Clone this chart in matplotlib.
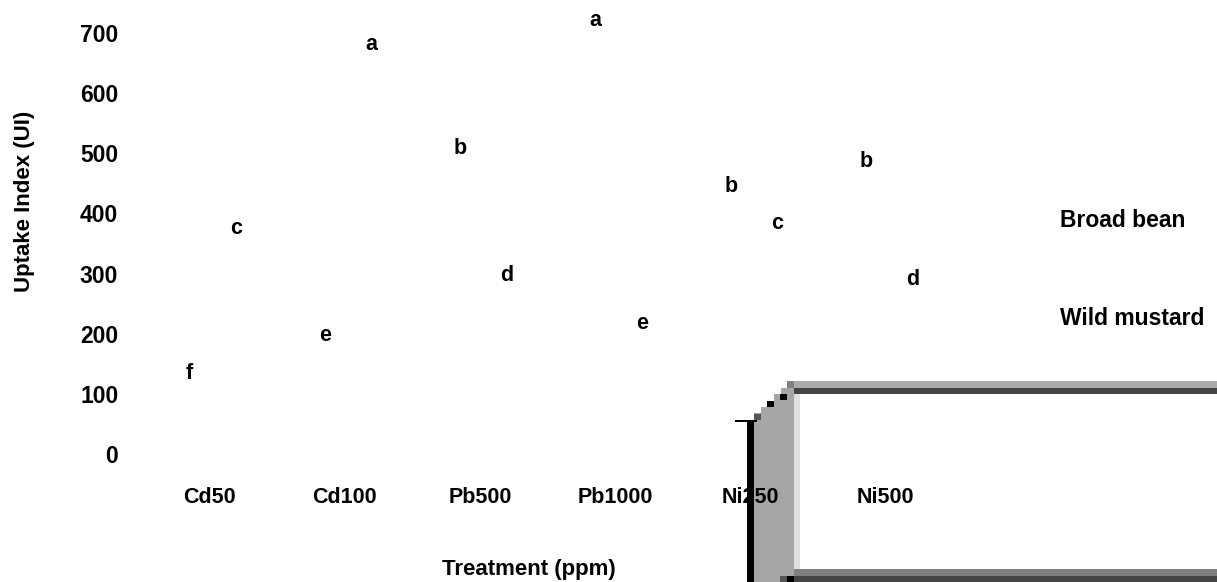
import numpy as np
import matplotlib
matplotlib.use("Agg")
import matplotlib.pyplot as plt
from matplotlib.patches import Rectangle, Polygon

plt.rcParams['font.family'] = ['Liberation Sans', 'DejaVu Sans']
plt.rcParams['font.weight'] = 'bold'

treatments = ["Cd50", "Cd100", "Pb500", "Pb1000", "Ni250", "Ni500"]
broad_bean = [116, 178, 490, 703, 426, 467]
wild_mustard = [357, 663, 278, 199, 364, 271]
letters_bb = ["f", "e", "b", "a", "b", "b"]
letters_wm = ["c", "a", "d", "e", "c", "d"]

W, H = 1217, 582
fig = plt.figure(figsize=(W / 100, H / 100), dpi=100)
ax = fig.add_axes([128 / W, 1 - 454 / H, 839 / W, 421 / H])
ax.patch.set_visible(False)

x = np.arange(len(treatments))
fs = 15.5
b1 = ax.bar(x - 0.145, broad_bean, 0.3, color="none", label="Broad bean")
b2 = ax.bar(x + 0.2, wild_mustard, 0.3, color="none", label="Wild mustard")

# significance letters over each bar
for bars, lets in ((b1, letters_bb), (b2, letters_wm)):
    for rect, let in zip(bars, lets):
        ax.annotate(let, (rect.get_x() + rect.get_width() / 2, rect.get_height()),
                    xytext=(0, 0.5), textcoords="offset points", ha="center", va="bottom",
                    fontsize=fs, fontweight="bold", annotation_clip=False)

ax.set_xlim(-0.6, 5.6)
ax.set_ylim(0, 700)
ax.set_yticks(range(0, 701, 100))
ax.set_xticks(x)
ax.set_xticklabels(treatments)
ax.tick_params(axis="x", length=0, pad=24, labelsize=fs)
ax.tick_params(axis="y", length=0, pad=7, labelsize=16.5)
for s in ax.spines.values():
    s.set_visible(False)

fig.text(25 / W, 1 - 201 / H, "Uptake Index (UI)", rotation=90, ha="center", va="center",
         fontsize=16, fontweight="bold")
fig.text(529 / W, 1 - 569 / H, "Treatment (ppm)", ha="center", va="center",
         fontsize=16, fontweight="bold")

fig.legend(handles=[b1, b2], loc="upper left", bbox_to_anchor=(1060 / W, 1 - 209 / H),
           frameon=False, handlelength=0, handletextpad=0, borderpad=0, borderaxespad=0,
           labelspacing=3.28, prop={"size": 16.5, "weight": "bold"})


# grey frame drawn in pixel units, origin at top left
def px_rect(x0, y0, x1, y1, color, z=5):
    fig.add_artist(Rectangle((x0 / W, 1 - y1 / H), (x1 - x0) / W, (y1 - y0) / H,
                             transform=fig.transFigure, facecolor=color, edgecolor="none",
                             zorder=z))


band = [(754, 582), (754, 413), (761, 413), (761, 407), (767, 407), (767, 401),
        (774, 401), (774, 394), (781, 394), (781, 388), (787, 388), (787, 381),
        (794, 381), (794, 582)]
fig.add_artist(Polygon([(px / W, 1 - py / H) for px, py in band], closed=True,
                       transform=fig.transFigure, facecolor="#a6a6a6", edgecolor="none",
                       zorder=-1))
px_rect(787, 381, 1217, 388, "#aaaaaa")
px_rect(794, 388, 1217, 394, "#444444")
px_rect(794, 394, 800, 569, "#e0e0e0", z=-1)
px_rect(794, 569, 1217, 576, "#808080")
px_rect(794, 576, 1217, 582, "#444444")
px_rect(787, 381, 794, 388, "#808080")
px_rect(780, 394, 787, 400, "black")
px_rect(767, 401, 774, 407, "black")
px_rect(754, 414, 761, 420, "#555555")
px_rect(780, 576, 787, 582, "#555555")
px_rect(787, 576, 794, 582, "black")
px_rect(747, 420, 754, 582, "black")
px_rect(735, 420, 757, 422, "black")

fig.savefig("out.png", dpi=100)
